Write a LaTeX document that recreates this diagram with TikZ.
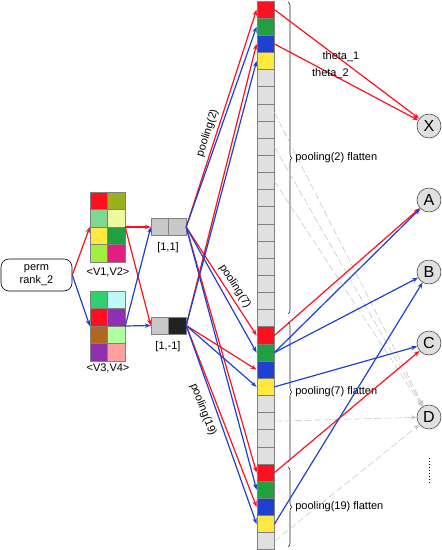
\documentclass[tikz,border=0pt]{standalone}
\usepackage{fontspec}
\setmainfont{Liberation Sans}
\usetikzlibrary{arrows.meta,decorations.pathreplacing}
\definecolor{pred}{RGB}{255,16,32}
\definecolor{pblue}{RGB}{32,64,208}
\definecolor{pgreen}{RGB}{32,160,64}
\definecolor{pyellow}{RGB}{255,232,64}
\definecolor{polive}{RGB}{155,176,32}
\definecolor{plgreen}{RGB}{128,216,144}
\definecolor{plyellow}{RGB}{240,248,160}
\definecolor{plime}{RGB}{160,240,64}
\definecolor{pmagenta}{RGB}{224,32,128}
\definecolor{pmint}{RGB}{48,208,112}
\definecolor{pcyan}{RGB}{192,248,248}
\definecolor{ppurple}{RGB}{144,48,176}
\definecolor{pbrown}{RGB}{176,104,32}
\definecolor{ppale}{RGB}{176,255,160}
\definecolor{ppink}{RGB}{255,160,160}
\definecolor{cgray}{RGB}{224,224,224}
\definecolor{vgray}{RGB}{200,200,200}
\definecolor{vdark}{RGB}{34,34,34}
\definecolor{cellline}{RGB}{128,128,128}
\definecolor{dashgray}{RGB}{200,200,200}

\begin{document}
\begin{tikzpicture}
    [x=1pt,y=-1pt,font=\fontsize{11}{13.5}\selectfont,
     cell/.style={draw=cellline,line width=0.8pt,minimum width=17pt,minimum height=17.15pt,inner sep=0pt},
     mcell/.style={draw=cellline,line width=0.8pt,minimum width=17.5pt,minimum height=17.5pt,inner sep=0pt},
     vcell/.style={draw=cellline,line width=0.8pt,minimum width=17.5pt,minimum height=17pt,inner sep=0pt},
     redarr/.style={draw=pred,line width=1.2pt,-{Stealth[length=6pt,width=4.5pt]}},
     bluearr/.style={draw=pblue,line width=1.2pt,-{Stealth[length=6pt,width=4.5pt]}},
     grayarr/.style={draw=dashgray,line width=0.6pt,dash pattern=on 7pt off 3pt,-{Stealth[length=6pt,width=4.5pt]}},
     outnode/.style={circle,draw=black!70,line width=0.6pt,fill=cgray,minimum size=24pt,inner sep=0pt,font=\fontsize{16}{18}\selectfont},
     flatbrace/.style={decorate,decoration={brace,amplitude=4pt},draw=black!85,line width=0.6pt}]
    \useasboundingbox (0,0) rectangle (442,550);
    % input
    \node[draw,rounded corners=8pt,line width=0.6pt,minimum width=71pt,minimum height=32pt,align=center] (perm) at (36.5,275) {perm\\rank\_2};
    % matrices
    \foreach \r/\cl/\cr in {0/pred/polive,1/plgreen/plyellow,2/pyellow/pgreen,3/plime/pmagenta}
    {
        \node[mcell,fill=\cl] (m1l\r) at (98.75,{192+(\r+0.5)*17.5}) {};
        \node[mcell,fill=\cr] (m1r\r) at (116.25,{192+(\r+0.5)*17.5}) {};
    }
    \foreach \r/\cl/\cr in {0/pmint/pcyan,1/pred/ppurple,2/pbrown/ppale,3/ppurple/ppink}
    {
        \node[mcell,fill=\cl] (m2l\r) at (98.75,{291+(\r+0.5)*17.5}) {};
        \node[mcell,fill=\cr] (m2r\r) at (116.25,{291+(\r+0.5)*17.5}) {};
    }
    \node[minimum width=35pt,minimum height=70pt,inner sep=0pt] (m1) at (107.5,227) {};
    \node[minimum width=35pt,minimum height=70pt,inner sep=0pt] (m2) at (107.5,326) {};
    \node (m1lab) at (108,272) {<V1,V2>};
    \node (m2lab) at (108,368) {<V3,V4>};
    % sign vectors
    \node[vcell,fill=vgray] (v1a) at (159.75,227) {};
    \node[vcell,fill=vgray] (v1b) at (177.25,227) {};
    \node[vcell,fill=vgray] (v2a) at (159.75,325.5) {};
    \node[vcell,fill=vdark] (v2b) at (177.25,325.5) {};
    \node[minimum width=35pt,minimum height=17pt,inner sep=0pt] (v1) at (168.5,227) {};
    \node[minimum width=35pt,minimum height=17pt,inner sep=0pt] (v2) at (168.5,325.5) {};
    \node (v1lab) at (168,248) {[1,1]};
    \node (v2lab) at (168,347) {[1,-1]};
    % flattened column
    \foreach \i in {4,5,6,7,8,9,10,11,12,13,14,15,16,17,18,23,24,25,26,31}
        \node[cell,fill=cgray] (c\i) at (265.5,{1+(\i+0.5)*17.15}) {};
    \foreach \g in {0,19,27}
        \foreach \k/\col in {0/pred,1/pgreen,2/pblue,3/pyellow}
        {
            \pgfmathtruncatemacro\i{\g+\k}
            \node[cell,fill=\col] (c\i) at (265.5,{1+(\i+0.5)*17.15}) {};
        }
    % braces
    \draw[flatbrace] (288,2) -- (288,314) node[midway,anchor=west,xshift=6pt,inner sep=1pt] {pooling(2) flatten};
    \draw[flatbrace] (288,322) -- (288,462) node[midway,anchor=west,xshift=6pt,inner sep=1pt] {pooling(7) flatten};
    \draw[flatbrace] (288,467) -- (288,547) node[midway,anchor=west,xshift=6pt,inner sep=1pt] {pooling(19) flatten};
    % outputs
    \node[outnode] (X) at (429,126) {X};
    \node[outnode] (A) at (429,200) {A};
    \node[outnode] (B) at (429,272) {B};
    \node[outnode] (C) at (429,343) {C};
    \node[outnode] (D) at (429,417) {D};
    \draw[dotted,line width=1pt] (429,458) -- (429,484);
    % unused cells
    \foreach \i in {6,8,10,24,31}
        \draw[grayarr] (c\i.east) -- (D);
    % input to matrices to vectors
    \draw[redarr] (perm.east) -- (m1.west);
    \draw[bluearr] (perm.east) -- (m2.west);
    \draw[redarr] (m1.east) -- (v1.west);
    \draw[redarr] (m1.east) -- (v2.west);
    \draw[bluearr] (m2.east) -- (v1.west);
    \draw[bluearr] (m2.east) -- (v2.west);
    % vectors to column
    \foreach \a/\b in {0/1,19/20,27/28}
    {
        \draw[redarr] (v1.east) -- (c\a.west);
        \draw[bluearr] (v1.east) -- (c\b.west);
    }
    \foreach \a/\b in {2/3,21/22,29/30}
    {
        \draw[redarr] (v2.east) -- (c\a.west);
        \draw[bluearr] (v2.east) -- (c\b.west);
    }
    \path (v1.east) -- (c0.west) node[pos=0.42,sloped,above] {pooling(2)};
    \path (v1.east) -- (c19.west) node[pos=0.59,sloped,above] {pooling(7)};
    \path (v2.east) -- (c29.west) node[pos=0.435,sloped,below=6pt] {pooling(19)};
    % column to outputs
    \draw[redarr] (c0.east) -- (X) node[pos=0.46,yshift=3pt] {theta\_1};
    \draw[redarr] (c2.east) -- (X) node[pos=0.39,yshift=0pt] {theta\_2};
    \draw[redarr] (c19.east) -- (A);
    \draw[bluearr] (c20.east) -- (A);
    \draw[bluearr] (c20.east) -- (B);
    \draw[bluearr] (c22.east) -- (C);
    \draw[redarr] (c27.east) -- (C);
    \draw[bluearr] (c30.east) -- (B);
\end{tikzpicture}
\end{document}
